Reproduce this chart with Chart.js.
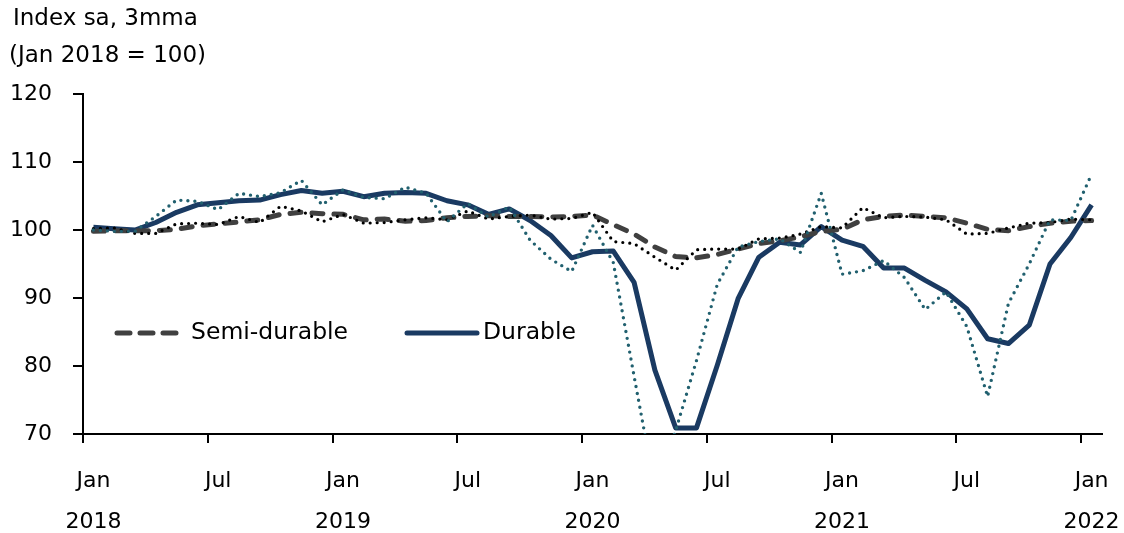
<!DOCTYPE html>
<html>
<head>
<meta charset="utf-8">
<script src="https://cdn.jsdelivr.net/npm/chart.js@4.4.1/dist/chart.umd.min.js"></script>
<style>
  html, body { margin: 0; padding: 0; background: #fff; }
  #wrap { width: 1124px; height: 533px; position: relative; }
</style>
</head>
<body>
<div id="wrap"><canvas id="chart"></canvas></div>
<script>
// months, Jan 2018 .. Jan 2022
const categories = [
  "Jan 2018", "Feb 2018", "Mar 2018", "Apr 2018", "May 2018", "Jun 2018",
  "Jul 2018", "Aug 2018", "Sep 2018", "Oct 2018", "Nov 2018", "Dec 2018",
  "Jan 2019", "Feb 2019", "Mar 2019", "Apr 2019", "May 2019", "Jun 2019",
  "Jul 2019", "Aug 2019", "Sep 2019", "Oct 2019", "Nov 2019", "Dec 2019",
  "Jan 2020", "Feb 2020", "Mar 2020", "Apr 2020", "May 2020", "Jun 2020",
  "Jul 2020", "Aug 2020", "Sep 2020", "Oct 2020", "Nov 2020", "Dec 2020",
  "Jan 2021", "Feb 2021", "Mar 2021", "Apr 2021", "May 2021", "Jun 2021",
  "Jul 2021", "Aug 2021", "Sep 2021", "Oct 2021", "Nov 2021", "Dec 2021",
  "Jan 2022"
];

// 3mma lines
const semiDurable = [
  99.8, 99.9, 99.9, 99.9, 100.1, 100.6, 100.9, 101.2, 101.5, 102.3, 102.6, 102.4,
  102.3, 101.5, 101.6, 101.3, 101.4, 101.8, 102.0, 102.1, 102.0, 102.0, 101.9, 102.0,
  102.2, 100.8, 99.4, 97.5, 96.1, 95.9, 96.4, 97.2, 98.0, 98.4, 99.0, 99.8,
  100.1, 101.5, 102.0, 102.2, 102.0, 101.8, 101.0, 100.1, 99.9, 100.5, 101.0, 101.3,
  101.4
];
const durable = [
  100.4, 100.2, 100.0, 101.1, 102.6, 103.7, 104.0, 104.3, 104.4, 105.2, 105.8, 105.4,
  105.7, 104.9, 105.4, 105.5, 105.4, 104.3, 103.7, 102.3, 103.1, 101.4, 99.2, 95.9,
  96.8, 96.9, 92.3, 79.4, 70.9, 70.9, 80.1, 89.9, 96.0, 98.2, 97.8, 100.5,
  98.5, 97.6, 94.4, 94.4, 92.6, 90.9, 88.4, 84.0, 83.3, 86.0, 95.0, 98.9,
  103.7
];

// monthly (dotted) lines
const semiDurableMonthly = [
  100.2, 100.3, 99.5, 99.5, 100.9, 101.0, 100.8, 102.0, 101.1, 103.5, 102.8, 101.2,
  102.3, 101.0, 101.1, 101.5, 101.8, 101.5, 102.8, 101.6, 102.0, 102.2, 101.6, 101.7,
  102.6, 98.3, 98.0, 96.0, 94.1, 97.1, 97.2, 97.2, 98.7, 98.8, 99.4, 100.5,
  100.3, 103.3, 101.8, 102.0, 101.9, 101.5, 99.4, 99.5, 100.3, 101.0, 101.1, 101.6,
  101.5
];
const durableMonthly = [
  100.0, 99.8, 99.8, 102.0, 104.4, 104.2, 103.0, 105.4, 104.9, 105.5, 107.3, 103.7,
  105.9, 104.8, 104.6, 106.3, 105.4, 101.2, 103.9, 101.9, 103.4, 98.5, 95.7, 93.9,
  100.7, 95.2, 78.5, 62.0, 70.5, 80.8, 92.0, 97.5, 98.3, 98.7, 96.7, 105.4,
  93.5, 94.0, 95.5, 93.0, 88.3, 90.9, 85.8, 75.5, 89.2, 95.0, 101.5, 101.4,
  108.2
];

const yTicks = [70, 80, 90, 100, 110, 120];
const xTickMonths = ["Jan", "Jul"];
const titleLines = ["Index sa, 3mma", "(Jan 2018 = 100)"];

const FONT = "'DejaVu Sans', sans-serif";

// title in the top left corner
const titlePlugin = {
  id: "titleText",
  afterDraw(chart) {
    const c = chart.ctx;
    c.save();
    c.fillStyle = "#000";
    c.font = "23px " + FONT;
    c.textBaseline = "middle";
    c.textAlign = "left";
    c.fillText(titleLines[0], 13, 19);
    c.fillText(titleLines[1], 9, 56);
    c.restore();
  }
};

// legend inside the plot, only the two 3mma series
const legendPlugin = {
  id: "insideLegend",
  afterDraw(chart) {
    const c = chart.ctx;
    const entries = [
      { ds: chart.data.datasets[0], x1: 117, x2: 179, tx: 191 },
      { ds: chart.data.datasets[1], x1: 407, x2: 477, tx: 483 }
    ];
    const y = 333;
    c.save();
    entries.forEach(e => {
      c.strokeStyle = e.ds.borderColor;
      c.lineWidth = e.ds.borderWidth;
      c.lineCap = "round";
      c.setLineDash(e.ds.legendDash || []);
      c.beginPath();
      c.moveTo(e.x1, y);
      c.lineTo(e.x2, y);
      c.stroke();
      c.setLineDash([]);
      c.fillStyle = "#000";
      c.font = "23.5px " + FONT;
      c.textBaseline = "middle";
      c.fillText(e.ds.label, e.tx, y);
    });
    c.restore();
  }
};

new Chart(document.getElementById("chart"), {
  type: "line",
  data: {
    labels: categories,
    datasets: [
      {
        label: "Semi-durable", data: semiDurable,
        borderColor: "#404040", borderWidth: 5, borderDash: [11, 11], legendDash: [13, 10],
        borderCapStyle: "round", pointRadius: 0, tension: 0, order: 2
      },
      {
        label: "Durable", data: durable,
        borderColor: "#1a3a62", borderWidth: 5, borderJoinStyle: "round",
        pointRadius: 0, tension: 0, order: 3
      },
      {
        label: "Semi-durable (monthly)", data: semiDurableMonthly,
        borderColor: "#000000", borderWidth: 3.2, borderDash: [0, 7],
        borderCapStyle: "round", pointRadius: 0, tension: 0, order: 1
      },
      {
        label: "Durable (monthly)", data: durableMonthly,
        borderColor: "#21606f", borderWidth: 3.4, borderDash: [0, 7],
        borderCapStyle: "round", pointRadius: 0, tension: 0, order: 0
      }
    ]
  },
  options: {
    responsive: true,
    maintainAspectRatio: false,
    animation: false,
    devicePixelRatio: 1,
    layout: { padding: { left: 0, right: 22, top: 94, bottom: 0 } },
    plugins: { legend: { display: false }, tooltip: { enabled: false } },
    scales: {
      x: {
        type: "category",
        offset: true,
        afterFit: s => { s.height = 99; s.paddingLeft = 0; s.paddingRight = 0; },
        border: { color: "#000", width: 2 },
        grid: {
          offset: true, drawOnChartArea: false, tickLength: 9, lineWidth: 2,
          color: ctx => (ctx.index !== undefined && ctx.index % 6 === 0) ? "#000" : "rgba(0,0,0,0)"
        },
        ticks: {
          autoSkip: false, minRotation: 0, maxRotation: 0, padding: 18, color: "#000",
          font: { family: FONT, size: 22, lineHeight: 41 / 22 },
          callback: (v, i) => {
            const parts = categories[i].split(" ");
            if (!xTickMonths.includes(parts[0])) return "";
            return parts[0] === "Jan" ? [parts[0], parts[1]] : [parts[0], ""];
          }
        }
      },
      y: {
        min: 70, max: 120,
        afterFit: s => { s.width = 83; },
        afterBuildTicks: s => { s.ticks = yTicks.map(v => ({ value: v })); },
        border: { color: "#000", width: 2 },
        grid: { drawOnChartArea: false, tickLength: 10, lineWidth: 2, color: "#000" },
        ticks: { padding: 21, color: "#000", font: { family: FONT, size: 22 } }
      }
    }
  },
  plugins: [titlePlugin, legendPlugin]
});
</script>
</body>
</html>
